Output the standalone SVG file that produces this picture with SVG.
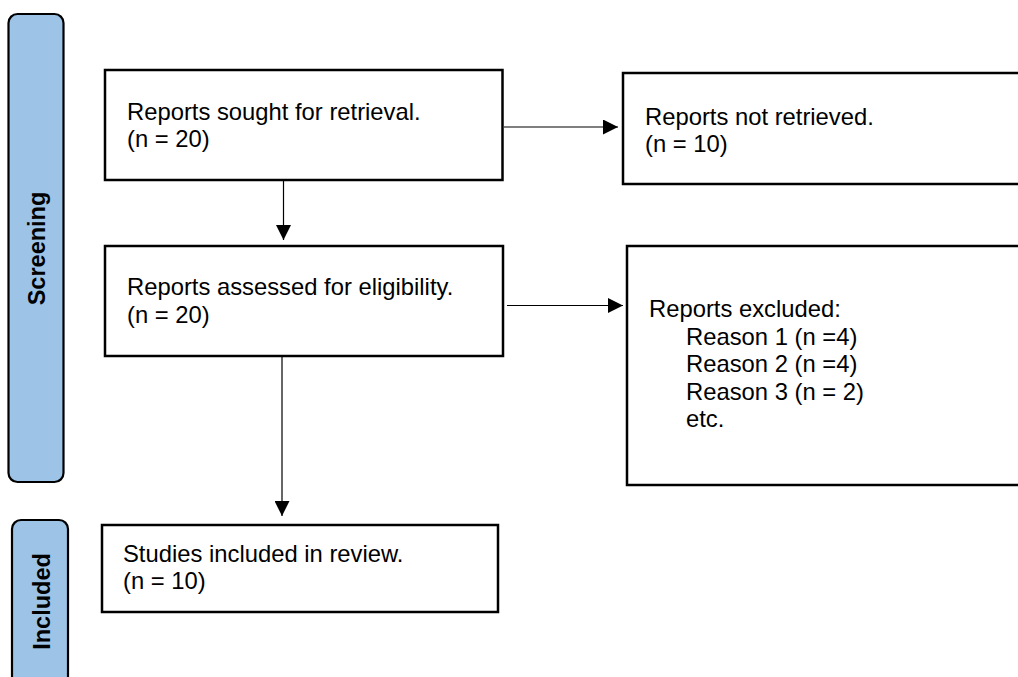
<svg xmlns="http://www.w3.org/2000/svg" width="1018" height="677" viewBox="0 0 1018 677">
<style>
.band{fill:#9DC3E6;stroke:#000;stroke-width:2.2}
.box{fill:#fff;stroke:#000;stroke-width:2.5}
.t{font-family:"Liberation Sans",Arial,sans-serif;font-size:23.8px;fill:#000}
.bl{font-family:"Liberation Sans",Arial,sans-serif;font-size:23.5px;font-weight:bold;fill:#000;text-anchor:middle}
.c{stroke:#000;stroke-width:1.2;fill:none}
</style>
<defs>
<marker id="ah" viewBox="0 0 10 10" refX="10" refY="5" markerWidth="15" markerHeight="15" markerUnits="userSpaceOnUse" orient="auto">
<path d="M0,0 L10,5 L0,10 Z" fill="#000"/>
</marker>
</defs>
<g id="band-screening">
<rect class="band" x="8.5" y="14" width="55" height="468" rx="9"/>
<text class="bl" transform="translate(45,248.5) rotate(-90)">Screening</text>
</g>
<g id="band-included">
<rect class="band" x="12" y="520" width="56" height="180" rx="9"/>
<text class="bl" transform="translate(50,601.5) rotate(-90)">Included</text>
</g>
<g id="node-sought">
<rect class="box" x="105" y="70" width="397.5" height="110"/>
<text class="t" x="127" y="119.5">Reports sought for retrieval.</text>
<text class="t" x="127" y="147">(n = 20)</text>
</g>
<g id="node-notretrieved">
<rect class="box" x="623" y="73" width="410" height="111"/>
<text class="t" x="645" y="125">Reports not retrieved.</text>
<text class="t" x="645" y="152">(n = 10)</text>
</g>
<g id="node-assessed">
<rect class="box" x="105" y="246" width="398" height="110"/>
<text class="t" x="127" y="295">Reports assessed for eligibility.</text>
<text class="t" x="127" y="322.5">(n = 20)</text>
</g>
<g id="node-excluded">
<rect class="box" x="627" y="246" width="410" height="239"/>
<text class="t" x="649" y="317">Reports excluded:</text>
<text class="t" x="686" y="344.5">Reason 1 (n =4)</text>
<text class="t" x="686" y="372">Reason 2 (n =4)</text>
<text class="t" x="686" y="399.5">Reason 3 (n = 2)</text>
<text class="t" x="686" y="427">etc.</text>
</g>
<g id="node-included">
<rect class="box" x="102" y="525" width="396" height="87"/>
<text class="t" x="123" y="562">Studies included in review.</text>
<text class="t" x="123" y="589">(n = 10)</text>
</g>
<g id="connectors">
<line class="c" x1="504" y1="127" x2="618" y2="127" marker-end="url(#ah)"/>
<line class="c" x1="507" y1="305.5" x2="623" y2="305.5" marker-end="url(#ah)"/>
<line class="c" x1="283.5" y1="181" x2="283.5" y2="240" marker-end="url(#ah)"/>
<line class="c" x1="282" y1="357" x2="282" y2="516" marker-end="url(#ah)"/>
</g>
</svg>
